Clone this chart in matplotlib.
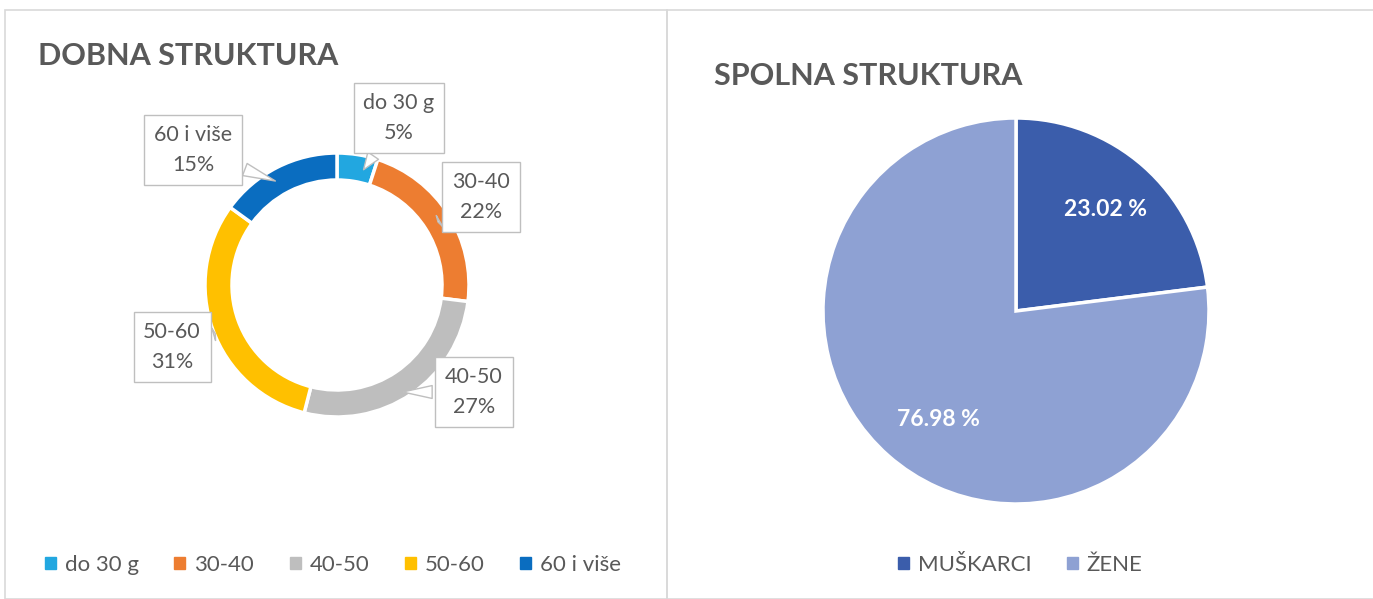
import matplotlib.pyplot as plt
from matplotlib.patches import Patch, Rectangle

plt.rcParams['font.family'] = ['Lato', 'DejaVu Sans']

# age structure
age_labels = ['do 30 g', '30-40', '40-50', '50-60', '60 i više']
age_values = [5, 22, 27, 31, 15]
age_colors = ['#22A7E0', '#ED7D31', '#BEBEBE', '#FFC000', '#0A6DC0']

# gender structure
sex_labels = ['MUŠKARCI', 'ŽENE']
sex_values = [23.02, 76.98]
sex_colors = ['#3B5DAB', '#8EA1D3']

W, H = 1373, 599
fig = plt.figure(figsize=(W / 100, H / 100), dpi=100)
ax = fig.add_axes([0, 0, 1, 1])

text_col = '#595959'


def py(y):
    # pixel y from top -> data y
    return H - y


# donut
ax.pie(age_values, colors=age_colors, startangle=90, counterclock=False,
       radius=132, center=(337, py(285)),
       wedgeprops=dict(width=27, edgecolor='white', linewidth=2.5))

# pie
ax.pie(sex_values, colors=sex_colors, startangle=90, counterclock=False,
       radius=193, center=(1016, py(311)),
       wedgeprops=dict(edgecolor='white', linewidth=2.5))

ax.set_xlim(0, W)
ax.set_ylim(0, H)
ax.set_aspect('auto')
ax.axis('off')

# panel frames
ax.add_patch(Rectangle((5, 0), 662, py(10), fill=False, ec='#D9D9D9', lw=1.2))
ax.add_patch(Rectangle((667, 0), 720, py(10), fill=False, ec='#D9D9D9', lw=1.2))

# titles
ax.text(38, py(56), 'DOBNA STRUKTURA', fontsize=22, fontweight='bold',
        color=text_col, va='center', ha='left')
ax.text(714, py(76), 'SPOLNA STRUKTURA', fontsize=22, fontweight='bold',
        color=text_col, va='center', ha='left')

# donut callouts: label box centre and arrow tip
box_pos = [(399, 118), (481, 197), (474, 392), (172, 347), (193, 150)]
tips = [(362, 172), (438, 222), (400, 392), (218, 333), (278, 182)]
for lab, val, (bx, by), (tx, ty) in zip(age_labels, age_values, box_pos, tips):
    ax.annotate(f'{lab}\n{val}%', xy=(tx, py(ty)), xytext=(bx, py(by)),
                ha='center', va='center', fontsize=15.5, color=text_col,
                linespacing=1.65,
                bbox=dict(boxstyle='square,pad=0.45', fc='white', ec='#BFBFBF', lw=1),
                arrowprops=dict(arrowstyle='wedge,tail_width=0.6,shrink_factor=0.5',
                                fc='white', ec='#BFBFBF', lw=1))

# pie labels
ax.text(1105, py(210), f'{sex_values[0]:.2f} %', fontsize=16.5, fontweight='bold',
        color='white', ha='center', va='center')
ax.text(938, py(420), f'{sex_values[1]:.2f} %', fontsize=16.5, fontweight='bold',
        color='white', ha='center', va='center')

# legends
h1 = [Patch(color=c, label=l) for c, l in zip(age_colors, age_labels)]
fig.legend(handles=h1, loc='center', bbox_to_anchor=(333 / W, 1 - 565 / H),
           ncol=5, frameon=False, fontsize=16, handlelength=0.5, handleheight=0.5,
           handletextpad=0.4, columnspacing=1.6, labelcolor=text_col)
h2 = [Patch(color=c, label=l) for c, l in zip(sex_colors, sex_labels)]
fig.legend(handles=h2, loc='center', bbox_to_anchor=(1020 / W, 1 - 565 / H),
           ncol=2, frameon=False, fontsize=16, handlelength=0.5, handleheight=0.5,
           handletextpad=0.4, columnspacing=1.6, labelcolor=text_col)

fig.savefig('out.png', dpi=100, facecolor='white')
